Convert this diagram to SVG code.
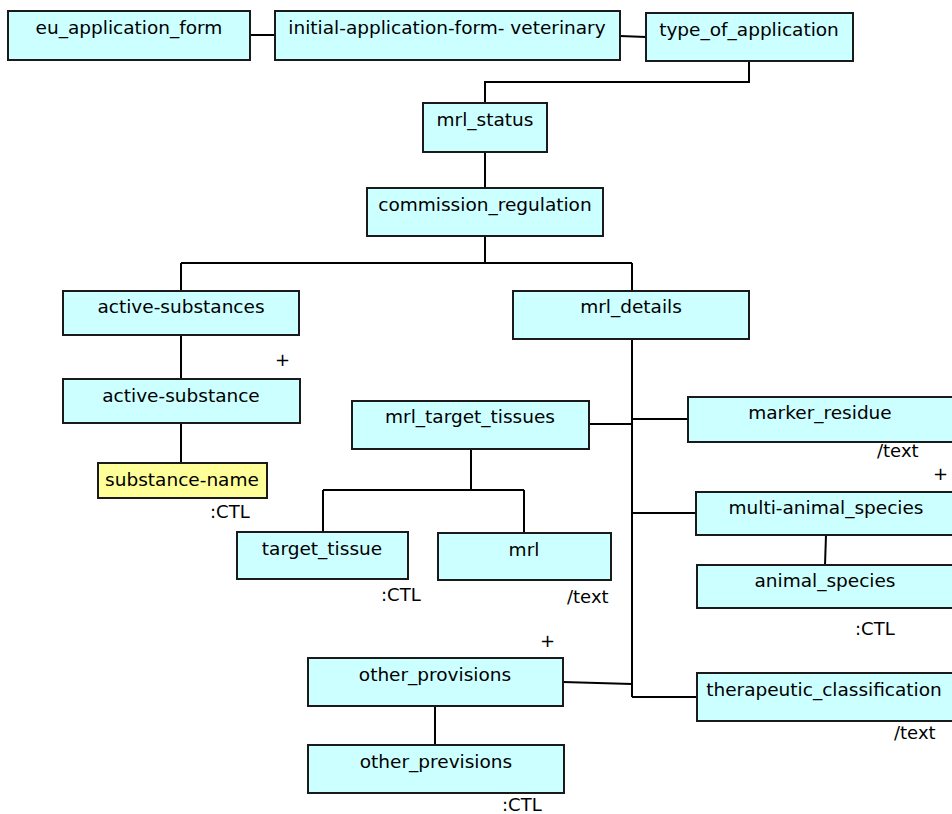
<svg xmlns="http://www.w3.org/2000/svg" width="952" height="814" viewBox="0 0 952 814">
<style>
.box{fill:#ccffff;stroke:#1a1a1a;stroke-width:2}
.leaf{fill:#ffff99;stroke:#1a1a1a;stroke-width:2}
.lbl{font-family:"DejaVu Sans","Noto Sans",sans-serif;font-size:18.5px;fill:#000;text-anchor:middle}
.ann{font-family:"DejaVu Sans","Noto Sans",sans-serif;font-size:18px;fill:#000}
.con{fill:none;stroke:#000;stroke-width:2}
</style>
<rect width="952" height="814" fill="#fff"/>
<g id="connectors">
<path class="con" d="M250,35 H275"/>
<path class="con" d="M620,36 L646,37"/>
<path class="con" d="M749,61 V82 H485 V103"/>
<path class="con" d="M485,152 V188"/>
<path class="con" d="M485,236 V263 M181,263 H632 M181,263 V291 M632,263 V291"/>
<path class="con" d="M181,335 V379"/>
<path class="con" d="M181,423 V463"/>
<path class="con" d="M632,339 V697"/>
<path class="con" d="M589,424 H632"/>
<path class="con" d="M632,419 H688"/>
<path class="con" d="M632,513 H696"/>
<path class="con" d="M632,697 H697"/>
<path class="con" d="M563,682 L632,684"/>
<path class="con" d="M471,449 V490 M323,490 H524 M323,490 V532 M524,490 V533"/>
<path class="con" d="M826,535 L825,565"/>
<path class="con" d="M435,706 V745"/>
</g>
<g id="eu_application_form"><rect class="box" x="8" y="11" width="242" height="49"/><text class="lbl" x="129" y="34">eu_application_form</text></g>
<g id="initial_application_form"><rect class="box" x="275" y="11" width="345" height="49"/><text class="lbl" x="447" y="34">initial-application-form- veterinary</text></g>
<g id="type_of_application"><rect class="box" x="646" y="13" width="207" height="48"/><text class="lbl" x="749" y="36">type_of_application</text></g>
<g id="mrl_status"><rect class="box" x="423" y="103" width="124" height="49"/><text class="lbl" x="485" y="126">mrl_status</text></g>
<g id="commission_regulation"><rect class="box" x="367" y="188" width="236" height="48"/><text class="lbl" x="485" y="211">commission_regulation</text></g>
<g id="active_substances"><rect class="box" x="63" y="291" width="236" height="44"/><text class="lbl" x="181" y="313">active-substances</text></g>
<g id="mrl_details"><rect class="box" x="513" y="291" width="236" height="48"/><text class="lbl" x="631" y="313">mrl_details</text></g>
<g id="active_substance"><rect class="box" x="63" y="379" width="237" height="44"/><text class="lbl" x="181" y="402">active-substance</text><text class="ann" x="275" y="366">+</text></g>
<g id="substance_name"><rect class="leaf" x="98" y="463" width="169" height="35"/><text class="lbl" x="182" y="486">substance-name</text><text class="ann" x="210" y="518">:CTL</text></g>
<g id="mrl_target_tissues"><rect class="box" x="352" y="401" width="237" height="48"/><text class="lbl" x="470" y="423">mrl_target_tissues</text></g>
<g id="target_tissue"><rect class="box" x="237" y="532" width="171" height="47"/><text class="lbl" x="322" y="555">target_tissue</text><text class="ann" x="381" y="601">:CTL</text></g>
<g id="mrl"><rect class="box" x="438" y="533" width="173" height="47"/><text class="lbl" x="524" y="556">mrl</text><text class="ann" x="567" y="603">/text</text></g>
<g id="marker_residue"><rect class="box" x="688" y="397" width="266" height="45"/><text class="lbl" x="820" y="419">marker_residue</text><text class="ann" x="877" y="457">/text</text><text class="ann" x="933" y="480">+</text></g>
<g id="multi_animal_species"><rect class="box" x="696" y="492" width="258" height="43"/><text class="lbl" x="826" y="514">multi-animal_species</text></g>
<g id="animal_species"><rect class="box" x="697" y="565" width="257" height="43"/><text class="lbl" x="825" y="587">animal_species</text><text class="ann" x="855" y="635">:CTL</text></g>
<g id="therapeutic_classification"><rect class="box" x="697" y="673" width="257" height="48"/><text class="lbl" x="824" y="696">therapeutic_classification</text><text class="ann" x="894" y="739">/text</text></g>
<g id="other_provisions"><rect class="box" x="308" y="658" width="255" height="48"/><text class="lbl" x="435" y="681">other_provisions</text><text class="ann" x="540" y="647">+</text></g>
<g id="other_previsions"><rect class="box" x="308" y="745" width="256" height="48"/><text class="lbl" x="436" y="768">other_previsions</text><text class="ann" x="502" y="811">:CTL</text></g>
</svg>
